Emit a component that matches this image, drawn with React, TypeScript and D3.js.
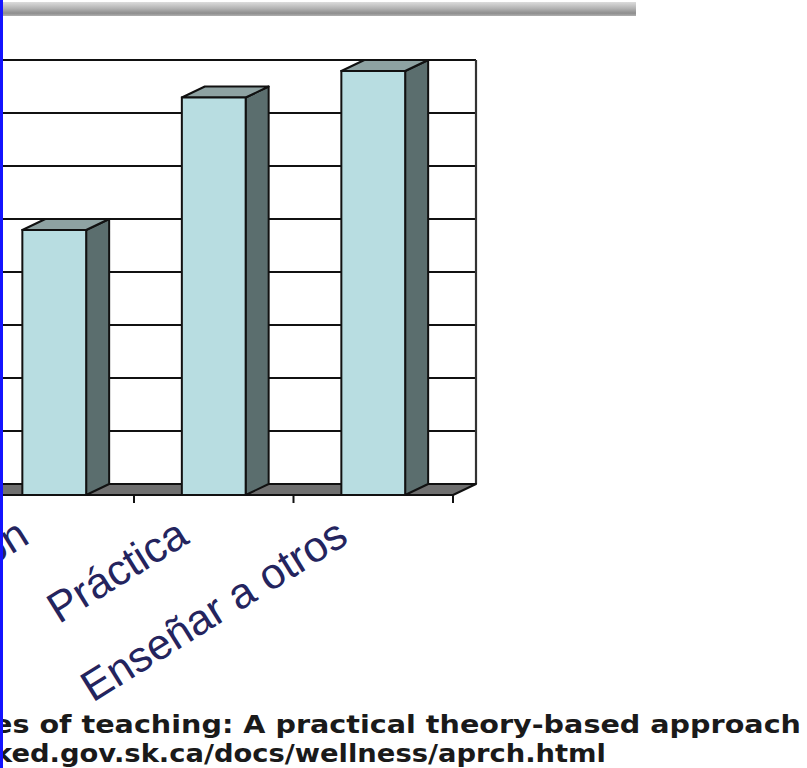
import * as d3 from 'd3';

// visible part of the chart (cropped on the left)
const categories = ['Discusión', 'Práctica', 'Enseñar a otros'];
const values = [50, 75, 80];
const yTicks = [0, 10, 20, 30, 40, 50, 60, 70, 80];

const footerLines = [
  'es of teaching: A practical theory-based approach',
  'ked.gov.sk.ca/docs/wellness/aprch.html',
];

const W = 807;
const H = 768;

export default function App() {
  const depth = { dx: 23, dy: -11 };
  const floorY = 495;

  const x = d3.scaleBand<string>().domain(categories).range([-25.5, 453]).padding(0);
  const yFront = d3.scaleLinear().domain([0, 80]).range([floorY, floorY - 424]);
  const yBack = (v: number) => yFront(v) + depth.dy;

  const [x0, x1] = x.range();
  const wallL = x0 + depth.dx;
  const wallR = x1 + depth.dx;
  const barW = x.bandwidth() * 0.4;

  const floorPts = [
    [x0, floorY],
    [x1, floorY],
    [x1 + depth.dx, floorY + depth.dy],
    [x0 + depth.dx, floorY + depth.dy],
  ].map(p => p.join(',')).join(' ');

  const boundaries = [...categories.map(c => x(c)!), x1];

  return (
    <svg width={W} height={H} style={{ position: 'absolute', left: 0, top: 0, background: '#fff' }}>
      <defs>
        <linearGradient id="topbar" x1="0" y1="0" x2="0" y2="1">
          <stop offset="0%" stopColor="#dcdcdc" />
          <stop offset="45%" stopColor="#b4b4b4" />
          <stop offset="80%" stopColor="#8e8e8e" />
          <stop offset="100%" stopColor="#b0b0b0" />
        </linearGradient>
      </defs>

      {/* header bar */}
      <rect x={0} y={2} width={636} height={14} fill="url(#topbar)" />

      {/* back wall */}
      <rect x={wallL} y={yBack(80)} width={wallR - wallL} height={yBack(0) - yBack(80)} fill="#fff" />
      {yTicks.map(t => (
        <line key={t} x1={wallL} x2={wallR} y1={yBack(t)} y2={yBack(t)} stroke="#111" strokeWidth={2} />
      ))}
      <line x1={wallR} x2={wallR} y1={yBack(80)} y2={yBack(0)} stroke="#333" strokeWidth={2.2} />

      {/* floor */}
      <polygon points={floorPts} fill="#6f6f6f" stroke="#111" strokeWidth={2} strokeLinejoin="round" />

      {/* ticks */}
      {boundaries.slice(1).map((bx, i) => (
        <line key={i} x1={bx} x2={bx} y1={floorY} y2={floorY + 8} stroke="#111" strokeWidth={2} />
      ))}

      {/* bars */}
      {categories.map((c, i) => {
        const cx = x(c)! + x.bandwidth() / 2;
        const bx = cx - barW / 2;
        const yt = yFront(values[i]);
        const { dx, dy } = depth;
        const side = [[bx + barW, yt], [bx + barW + dx, yt + dy], [bx + barW + dx, floorY + dy], [bx + barW, floorY]];
        const top = [[bx, yt], [bx + dx, yt + dy], [bx + barW + dx, yt + dy], [bx + barW, yt]];
        return (
          <g key={c}>
            <polygon points={side.map(p => p.join(',')).join(' ')} fill="#5b6e6e" stroke="#111" strokeWidth={2} strokeLinejoin="round" />
            <polygon points={top.map(p => p.join(',')).join(' ')} fill="#8ea2a2" stroke="#111" strokeWidth={2} strokeLinejoin="round" />
            <rect x={bx} y={yt} width={barW} height={floorY - yt} fill="#b8dde1" stroke="#111" strokeWidth={2} />
          </g>
        );
      })}

      {/* category labels */}
      {categories.map(c => {
        const cx = x(c)! + x.bandwidth() / 2;
        return (
          <text
            key={c}
            transform={`translate(${cx - 23},542) rotate(-32)`}
            textAnchor="end"
            fontFamily="'Liberation Sans', Arial, sans-serif"
            fontSize={43}
            fill="#24245e"
          >
            {c}
          </text>
        );
      })}

      {/* source footer */}
      <text x={-7} y={733} fontFamily="'DejaVu Sans', Verdana, sans-serif" fontWeight="bold" fontSize={25}
        fill="#1a1a1a" textLength={808} lengthAdjust="spacingAndGlyphs">
        {footerLines[0]}
      </text>
      <text x={-6} y={762} fontFamily="'DejaVu Sans', Verdana, sans-serif" fontWeight="bold" fontSize={25}
        fill="#1a1a1a" textLength={612} lengthAdjust="spacingAndGlyphs">
        {footerLines[1]}
      </text>

      {/* blue edge */}
      <rect x={0} y={0} width={3} height={H} fill="#1414ff" />
    </svg>
  );
}
